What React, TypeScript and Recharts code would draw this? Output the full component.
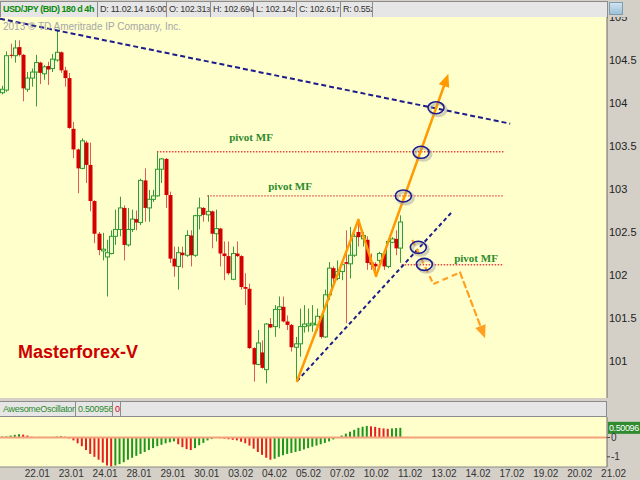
import React from "react";
import { Bar, CartesianGrid, Cell, ComposedChart, ReferenceDot, ReferenceLine, XAxis, YAxis } from "recharts";

// 4h candles, [open, high, low, close]
const ohlc: [number, number, number, number][] = [
  [104.12, 104.2, 104.1, 104.16], [104.15, 104.6, 104.13, 104.55], [104.56, 104.69, 104.52, 104.55],
  [104.55, 104.73, 104.47, 104.64], [104.65, 104.73, 104.54, 104.56], [104.56, 104.57, 104.02, 104.17],
  [104.16, 104.36, 104.13, 104.29], [104.29, 104.4, 104.19, 104.36], [104.36, 104.56, 103.96, 104.47],
  [104.47, 104.48, 104.22, 104.35], [104.34, 104.44, 104.27, 104.42], [104.43, 104.48, 104.21, 104.39],
  [104.4, 104.57, 104.36, 104.51], [104.5, 104.85, 104.48, 104.59], [104.59, 104.6, 104.35, 104.38],
  [104.38, 104.42, 104.19, 104.29], [104.29, 104.35, 103.7, 103.71], [103.7, 103.78, 103.36, 103.46],
  [103.46, 103.47, 102.95, 103.24], [103.24, 103.59, 103.23, 103.56], [103.54, 103.56, 103.07, 103.28],
  [103.28, 103.54, 102.74, 102.86], [102.86, 102.87, 102.37, 102.48], [102.48, 102.5, 102.23, 102.29],
  [102.28, 102.49, 102.17, 102.3], [102.21, 102.41, 101.75, 102.26], [102.25, 102.52, 102.24, 102.45],
  [102.45, 102.76, 102.35, 102.53], [102.53, 102.91, 102.45, 102.78], [102.78, 102.81, 102.17, 102.35],
  [102.35, 102.78, 102.33, 102.53], [102.53, 102.76, 102.5, 102.65], [102.65, 102.75, 102.52, 102.61],
  [102.61, 103.12, 102.58, 103.1], [103.1, 103.24, 102.62, 102.78], [102.78, 102.99, 102.62, 102.88],
  [102.88, 102.99, 102.85, 102.92], [102.92, 103.43, 102.91, 103.23], [103.23, 103.36, 103.07, 103.35],
  [103.35, 103.36, 102.78, 102.93], [102.93, 102.97, 102.14, 102.19], [102.19, 102.33, 101.98, 102.1],
  [102.1, 102.33, 101.83, 102.26], [102.26, 102.33, 102.08, 102.23], [102.23, 102.52, 102.21, 102.46],
  [102.46, 102.52, 102.1, 102.23], [102.23, 102.7, 102.21, 102.69], [102.69, 102.9, 102.53, 102.78],
  [102.78, 102.79, 102.62, 102.7], [102.7, 102.93, 102.62, 102.74], [102.74, 102.75, 102.31, 102.48],
  [102.48, 102.76, 102.39, 102.54], [102.54, 102.55, 102.1, 102.25], [102.25, 102.39, 101.94, 102.22],
  [102.22, 102.39, 102.0, 102.02], [101.95, 102.33, 101.94, 102.25], [102.25, 102.39, 102.21, 102.22],
  [102.22, 102.23, 101.83, 101.86], [101.86, 102.02, 101.65, 101.84], [101.84, 101.9, 101.14, 101.15],
  [101.15, 101.16, 100.76, 100.96], [100.96, 101.36, 100.95, 101.21], [101.1, 101.24, 100.91, 100.92],
  [100.9, 101.44, 100.74, 101.43], [101.43, 101.5, 101.38, 101.39], [101.4, 101.65, 101.28, 101.6],
  [101.6, 101.75, 101.38, 101.63], [101.63, 101.75, 101.45, 101.46], [101.46, 101.53, 101.36, 101.42],
  [101.42, 101.43, 101.11, 101.16], [101.16, 101.28, 100.76, 101.2], [101.2, 101.61, 101.05, 101.4],
  [101.4, 101.65, 101.33, 101.43], [101.41, 101.61, 101.34, 101.43], [101.42, 101.65, 101.34, 101.44],
  [101.42, 101.61, 101.35, 101.52], [101.52, 101.53, 101.26, 101.28], [101.28, 101.83, 101.27, 101.77],
  [101.77, 102.15, 101.71, 102.08], [102.08, 102.1, 101.9, 101.96], [101.96, 102.17, 101.94, 102.04],
  [102.04, 102.15, 101.94, 102.12], [102.15, 102.52, 101.44, 102.13], [102.13, 102.56, 101.96, 102.23],
  [102.23, 102.48, 102.21, 102.45], [102.5, 102.62, 102.33, 102.44], [102.42, 102.5, 102.33, 102.46],
  [102.41, 102.45, 102.06, 102.14], [102.15, 102.25, 102.06, 102.12], [102.13, 102.15, 102.05, 102.1],
  [102.17, 102.27, 102.14, 102.25], [102.25, 102.27, 102.06, 102.1], [102.1, 102.4, 102.08, 102.39],
  [102.38, 102.44, 102.37, 102.42], [102.42, 102.52, 102.23, 102.31], [102.313, 102.694, 102.142, 102.617],
];

// Awesome Oscillator, one value per candle
const aoValues = [
  0.05, 0.06, 0.1, 0.14, 0.17, 0.15, 0.1, 0.04, 0.01, 0.03, 0.03, 0.02, 0.03, 0.05, 0.07, 0.04,
  -0.05, -0.15, -0.3, -0.45, -0.65, -0.85, -1.0, -1.15, -1.3, -1.45, -1.5,
  -1.45, -1.38, -1.28, -1.15, -1.05, -0.95, -0.85, -0.75, -0.65, -0.55, -0.45, -0.38, -0.3, -0.25, -0.2,
  -0.35, -0.5, -0.6, -0.65,
  -0.55, -0.4, -0.28, -0.15, -0.08, -0.03,
  -0.04, -0.06, -0.09, -0.12, -0.15, -0.22, -0.3, -0.42, -0.58, -0.75, -0.9, -1.05, -1.15,
  -1.1, -1.0, -0.92, -0.85, -0.8, -0.75, -0.7, -0.62, -0.55, -0.48, -0.42, -0.35, -0.28, -0.2, -0.1, -0.03,
  0.1, 0.2, 0.3, 0.4, 0.5, 0.56, 0.6,
  0.58, 0.55, 0.5, 0.47, 0.45,
  0.47, 0.49, 0.501,
];
const aoLast = 0.50096;

const dateLabels = [
  "22.01", "23.01", "24.01", "28.01", "29.01", "30.01", "03.02", "04.02", "05.02",
  "07.02", "10.02", "11.02", "13.02", "14.02", "17.02", "19.02", "20.02", "21.02",
];
const priceTicks = [101, 101.5, 102, 102.5, 103, 103.5, 104, 104.5, 105];
const aoTicks = [0, -1];

const quoteFields: [string, string][] = [
  ["D: 11.02.14 16:00", ""],
  ["O: 102.31", "3"],
  ["H: 102.69", "4"],
  ["L: 102.14", "2"],
  ["C: 102.61", "7"],
  ["R: 0.55", "2"],
];

// drawings, in (candle index, price)
const resistanceLine = [{ x: -0.55, y: 104.98 }, { x: 121.2, y: 103.76 }];
const supportLine = [{ x: 70.33, y: 100.767 }, { x: 107.3, y: 102.733 }];
const impulsePath = [
  { x: 70.33, y: 100.767 },
  { x: 84.96, y: 102.64 },
  { x: 89.19, y: 101.99 },
  { x: 106.44, y: 104.34 },
];
const scenarioPath = [
  { x: 97.85, y: 102.407 },
  { x: 102.86, y: 101.895 },
  { x: 109.24, y: 102.03 },
  { x: 115.2, y: 101.264 },
];
const pivotLevels = [
  { from: 36.9, to: 119.6, price: 103.434 },
  { from: 48.9, to: 119.6, price: 102.92 },
  { from: 95.3, to: 119.6, price: 102.12 },
];
const pivotLabels = [
  { x: 59.35, y: 103.6 },
  { x: 68.67, y: 103.03 },
  { x: 113.05, y: 102.2 },
];
const crossings = [
  { x: 103.5, y: 103.945 },
  { x: 99.93, y: 103.427 },
  { x: 95.7, y: 102.919 },
  { x: 99.28, y: 102.322 },
  { x: 100.71, y: 102.124 },
];

const X_DOMAIN: [number, number] = [-0.55, 144.3];
const BG = "#FFFFCC";
const PANEL = "#D4D0C8";
const FONT = "'Liberation Sans', Arial, sans-serif";

const candleRows = ohlc.map(([o, h, l, c], i) => ({ i, o, h, l, c, range: [l, h] }));
const aoRows = aoValues.map((ao, i) => ({ i, ao, up: i === 0 || ao >= aoValues[i - 1] }));
const xTicks = dateLabels.map((_, k) => 8.35 + 8.09 * k);

function Candle(props: any) {
  const { x, y, width, height, payload } = props;
  if (!payload) return null;
  const { o, h, l, c } = payload;
  const top = Math.min(y, y + height);
  const hgt = Math.abs(height);
  const span = h - l || 1e-6;
  const py = (v: number) => top + ((h - v) / span) * hgt;
  const cx = Math.round(x + width / 2) + 0.5;
  const up = c >= o;
  const bTop = py(Math.max(o, c));
  const bBot = py(Math.min(o, c));
  const bH = Math.max(bBot - bTop, 1);
  return (
    <g>
      <line x1={cx} x2={cx} y1={top} y2={top + hgt} stroke={up ? "#3c9c3c" : "#e05a5a"} strokeWidth={1} />
      {up ? (
        <rect x={cx - 2} y={bTop} width={4} height={bH} fill="#F2F8CE" stroke="#2f9a2f" strokeWidth={1} />
      ) : (
        <rect x={cx - 2} y={bTop} width={4} height={bH} fill="#d40000" />
      )}
    </g>
  );
}

const arrowShape = (color: string, width: number, dash?: string) => (p: any) => {
  const { x1, y1, x2, y2 } = p;
  const a = Math.atan2(y2 - y1, x2 - x1);
  const len = 13;
  const half = 5.5;
  const bx = x2 - len * Math.cos(a);
  const by = y2 - len * Math.sin(a);
  const pts = `${x2},${y2} ${bx + half * Math.sin(a)},${by - half * Math.cos(a)} ${bx - half * Math.sin(a)},${by + half * Math.cos(a)}`;
  return (
    <g>
      <line x1={x1} y1={y1} x2={bx} y2={by} stroke={color} strokeWidth={width} strokeDasharray={dash} strokeLinecap="round" />
      <polygon points={pts} fill={color} />
    </g>
  );
};

const ellipseShape = (p: any) => (
  <g>
    <ellipse cx={p.cx + 2} cy={p.cy + 2} rx={8} ry={6} fill="none" stroke="#999" strokeOpacity={0.45} strokeWidth={3} />
    <ellipse cx={p.cx} cy={p.cy} rx={8} ry={6} fill="none" stroke="#1c1c8c" strokeWidth={1.6} />
  </g>
);

const pivotTextShape = (p: any) => (
  <text
    x={p.cx}
    y={p.cy}
    textAnchor="middle"
    dominantBaseline="central"
    fill="#2c8a2c"
    fontFamily="'Liberation Serif', 'Times New Roman', serif"
    fontWeight="bold"
    fontSize={11}
  >
    pivot MF
  </text>
);

const badgeShape = (p: any) => (
  <g>
    <rect x={p.cx + 1} y={p.cy - 6} width={32} height={12} fill="#2e8b2e" />
    <text
      x={p.cx + 2}
      y={p.cy}
      dominantBaseline="central"
      fill="#ffffff"
      fontSize={9}
      letterSpacing={-0.4}
      fontFamily={FONT}
    >
      {aoLast.toFixed(5)}
    </text>
  </g>
);

function HeaderBox({ w, children, style }: { w: number; children: React.ReactNode; style?: React.CSSProperties }) {
  return (
    <div
      style={{
        width: w,
        flex: "none",
        height: 15,
        boxSizing: "border-box",
        borderRight: "1px solid #8c8c8c",
        padding: "0 1px 0 2px",
        lineHeight: "15px",
        whiteSpace: "nowrap",
        overflow: "hidden",
        ...style,
      }}
    >
      {children}
    </div>
  );
}

export default function App() {
  const boxWidths = [69, 44, 43, 43, 44, 32];
  return (
    <div
      style={{
        position: "absolute",
        left: 0,
        top: 0,
        width: 640,
        height: 480,
        background: PANEL,
        overflow: "hidden",
        fontFamily: FONT,
        color: "#222",
      }}
    >
      {/* quote header */}
      <div
        style={{
          position: "absolute",
          left: 0,
          top: 1,
          width: 606,
          height: 15,
          display: "flex",
          background: "#E6E6E6",
          border: "1px solid #8c8c8c",
          boxSizing: "content-box",
          fontSize: 9,
          letterSpacing: -0.25,
          color: "#333",
        }}
      >
        <HeaderBox w={97} style={{ color: "#0a8a0a", fontWeight: "bold", letterSpacing: -0.45 }}>
          USD/JPY (BID) 180 d 4h
        </HeaderBox>
        {quoteFields.map(([main, small], k) => (
          <HeaderBox key={main} w={boxWidths[k]}>
            {main}
            <span style={{ fontSize: 7 }}>{small}</span>
          </HeaderBox>
        ))}
      </div>
      <div
        style={{
          position: "absolute",
          left: 609,
          top: 2,
          width: 12,
          height: 11,
          background: "linear-gradient(#cfe3f0, #9cc0d8)",
          border: "1px solid #7f9db0",
        }}
      />

      {/* price panel */}
      <div style={{ position: "absolute", left: 0, top: 17 }}>
        <ComposedChart width={640} height={381} data={candleRows} margin={{ top: 0, right: 0, bottom: 0, left: 0 }}>
          <CartesianGrid horizontal={false} vertical={false} fill={BG} />
          <XAxis dataKey="i" type="number" domain={X_DOMAIN} allowDataOverflow hide />
          <YAxis
            orientation="right"
            type="number"
            domain={[100.57, 105]}
            allowDataOverflow
            ticks={priceTicks}
            interval={0}
            width={33}
            axisLine={{ stroke: "#6a6a6a" }}
            tickLine={false}
            tickSize={0}
            tickMargin={2}
            tick={{ fill: "#222", fontSize: 11, fontFamily: FONT, textAnchor: "start" }}
          />
          <Bar dataKey="range" barSize={4} shape={Candle} isAnimationActive={false} />

          {pivotLevels.map((pv, k) => (
            <ReferenceLine
              key={`pv${k}`}
              segment={[{ x: pv.from, y: pv.price }, { x: pv.to, y: pv.price }]}
              stroke="#e04848"
              strokeWidth={1.4}
              strokeDasharray="1.5 1.5"
              ifOverflow="visible"
            />
          ))}
          <ReferenceLine
            segment={resistanceLine}
            stroke="#1c1c8c"
            strokeWidth={2}
            strokeDasharray="5 3"
            ifOverflow="visible"
          />
          <ReferenceLine
            segment={supportLine}
            stroke="#1c1c8c"
            strokeWidth={2}
            strokeDasharray="4 3"
            ifOverflow="visible"
          />
          {impulsePath.slice(0, -2).map((pt, k) => (
            <ReferenceLine
              key={`im${k}`}
              segment={[pt, impulsePath[k + 1]]}
              stroke="#ff9a00"
              strokeWidth={2.5}
              strokeLinecap="round"
              ifOverflow="visible"
            />
          ))}
          <ReferenceLine
            segment={[impulsePath[2], impulsePath[3]]}
            shape={arrowShape("#ff9a00", 2.5)}
            ifOverflow="visible"
          />
          {scenarioPath.slice(0, -2).map((pt, k) => (
            <ReferenceLine
              key={`sc${k}`}
              segment={[pt, scenarioPath[k + 1]]}
              stroke="#ffa020"
              strokeWidth={2.2}
              strokeDasharray="6 4"
              ifOverflow="visible"
            />
          ))}
          <ReferenceLine
            segment={[scenarioPath[2], scenarioPath[3]]}
            shape={arrowShape("#ffa020", 2.2, "6 4")}
            ifOverflow="visible"
          />
          {crossings.map((pt, k) => (
            <ReferenceDot key={`cr${k}`} x={pt.x} y={pt.y} r={8} shape={ellipseShape} ifOverflow="visible" />
          ))}
          {pivotLabels.map((pt, k) => (
            <ReferenceDot key={`pl${k}`} x={pt.x} y={pt.y} r={1} shape={pivotTextShape} ifOverflow="visible" />
          ))}
        </ComposedChart>
      </div>
      <div
        style={{
          position: "absolute",
          left: 3,
          top: 21,
          fontSize: 10,
          color: "#a6a6a6",
          pointerEvents: "none",
        }}
      >
        2013 © TD Ameritrade IP Company, Inc.
      </div>
      <div
        style={{
          position: "absolute",
          left: 18,
          top: 342,
          fontSize: 18,
          fontWeight: "bold",
          color: "#cc0000",
          lineHeight: "20px",
        }}
      >
        Masterforex-V
      </div>

      {/* oscillator header */}
      <div
        style={{
          position: "absolute",
          left: 0,
          top: 401,
          width: 606,
          height: 14,
          display: "flex",
          background: "#E6E6E6",
          border: "1px solid #8c8c8c",
          borderLeft: "none",
          fontSize: 9,
          letterSpacing: -0.3,
          color: "#2a8a2a",
        }}
      >
        <div style={{ width: 76, flex: "none", boxSizing: "border-box", borderRight: "1px solid #8c8c8c", padding: "0 0 0 3px", lineHeight: "14px", whiteSpace: "nowrap", overflow: "hidden" }}>
          AwesomeOscillator
        </div>
        <div style={{ width: 37, flex: "none", boxSizing: "border-box", borderRight: "1px solid #8c8c8c", padding: "0 0 0 2px", lineHeight: "14px", whiteSpace: "nowrap", overflow: "hidden" }}>
          0.500956
        </div>
        <div style={{ width: 8, flex: "none", boxSizing: "border-box", borderRight: "1px solid #8c8c8c", padding: "0 0 0 2px", lineHeight: "14px", color: "#e00000" }}>
          0
        </div>
      </div>

      {/* oscillator panel */}
      <div style={{ position: "absolute", left: 0, top: 417 }}>
        <ComposedChart width={640} height={63} data={aoRows} margin={{ top: 0, right: 0, bottom: 0, left: 0 }}>
          <CartesianGrid horizontal={false} vertical={false} fill={BG} />
          <XAxis
            dataKey="i"
            type="number"
            domain={X_DOMAIN}
            allowDataOverflow
            ticks={xTicks}
            interval={0}
            height={13}
            axisLine={{ stroke: "#8a8a8a" }}
            tickLine={false}
            tickSize={0}
            tickMargin={3}
            tickFormatter={(_v: number, idx: number) => dateLabels[idx]}
            tick={{ fill: "#333", fontSize: 10, fontFamily: FONT }}
          />
          <YAxis
            orientation="right"
            type="number"
            domain={[-1.528, 1.062]}
            allowDataOverflow
            ticks={aoTicks}
            interval={0}
            width={33}
            axisLine={{ stroke: "#6a6a6a" }}
            tickSize={3}
            tickMargin={1}
            tickLine={{ stroke: "#444" }}
            tick={{ fill: "#333", fontSize: 10, fontFamily: FONT, textAnchor: "start" }}
          />
          <ReferenceLine y={0} stroke="#f4a07c" strokeWidth={2} />
          <Bar dataKey="ao" barSize={2} isAnimationActive={false}>
            {aoRows.map((r) => (
              <Cell key={r.i} fill={r.up ? "#1e961e" : "#e52020"} />
            ))}
          </Bar>
          <ReferenceDot x={X_DOMAIN[1]} y={aoLast} r={1} shape={badgeShape} ifOverflow="visible" />
        </ComposedChart>
      </div>
    </div>
  );
}
